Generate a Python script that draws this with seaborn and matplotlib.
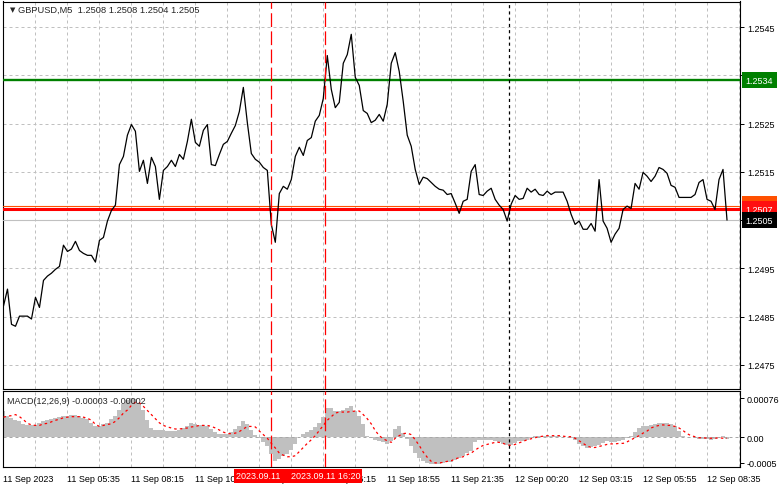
import matplotlib

matplotlib.use("Agg")
import matplotlib.pyplot as plt
import numpy as np
import pandas as pd
import seaborn as sns

# ─────────────────────────────────────────────
# Data (one sample every 2 bars)
# ─────────────────────────────────────────────
close = [
    1.24872, 1.24907, 1.24834, 1.24830, 1.24851, 1.24851, 1.24851, 1.24845, 1.24890, 1.24869,
    1.24925, 1.24934, 1.24940, 1.24948, 1.24954, 1.24998, 1.24985, 1.24990, 1.25006, 1.24987,
    1.24981, 1.24977, 1.24977, 1.24963, 1.25008, 1.25014, 1.25048, 1.25070, 1.25081, 1.25165,
    1.25182, 1.25226, 1.25248, 1.25234, 1.25151, 1.25174, 1.25126, 1.25180, 1.25161, 1.25093,
    1.25153, 1.25161, 1.25174, 1.25161, 1.25186, 1.25176, 1.25213, 1.25259, 1.25211, 1.25203,
    1.25236, 1.25248, 1.25165, 1.25163, 1.25186, 1.25207, 1.25213, 1.25230, 1.25246, 1.25275,
    1.25325, 1.25252, 1.25188, 1.25176, 1.25170, 1.25159, 1.25153, 1.25041, 1.25004, 1.25105,
    1.25120, 1.25114, 1.25134, 1.25182, 1.25201, 1.25184, 1.25215, 1.25221, 1.25255, 1.25267,
    1.25302, 1.25391, 1.25321, 1.25283, 1.25294, 1.25375, 1.25393, 1.25435, 1.25346, 1.25329,
    1.25277, 1.25271, 1.25252, 1.25257, 1.25269, 1.25255, 1.25290, 1.25375, 1.25397, 1.25358,
    1.25296, 1.25226, 1.25203, 1.25155, 1.25124, 1.25139, 1.25136, 1.25128, 1.25120, 1.25114,
    1.25112, 1.25103, 1.25105, 1.25085, 1.25064, 1.25089, 1.25093, 1.25151, 1.25165, 1.25103,
    1.25101, 1.25110, 1.25116, 1.25093, 1.25081, 1.25072, 1.25048, 1.25083, 1.25101, 1.25093,
    1.25095, 1.25116, 1.25108, 1.25114, 1.25103, 1.25101, 1.25110, 1.25103, 1.25108, 1.25108,
    1.25108, 1.25089, 1.25062, 1.25041, 1.25048, 1.25031, 1.25031, 1.25043, 1.25027, 1.25134,
    1.25048, 1.25033, 1.25004, 1.25021, 1.25033, 1.25072, 1.25079, 1.25074, 1.25126, 1.25114,
    1.25149, 1.25141, 1.25130, 1.25141, 1.25159, 1.25155, 1.25147, 1.25122, 1.25118, 1.25097,
    1.25097, 1.25097, 1.25097, 1.25103, 1.25128, 1.25134, 1.25093, 1.25089, 1.25072, 1.25134,
    1.25155, 1.25050,
]

macd_main = [
    0.00052, 0.00042, 0.00038, 0.00034, 0.00031, 0.00026, 0.00023, 0.00023, 0.00024, 0.00027,
    0.00031, 0.00034, 0.00036, 0.00038, 0.00040, 0.00042, 0.00042, 0.00043, 0.00043, 0.00042,
    0.00038, 0.00035, 0.00027, 0.00021, 0.00021, 0.00025, 0.00028, 0.00036, 0.00042, 0.00053,
    0.00064, 0.00073, 0.00076, 0.00074, 0.00067, 0.00053, 0.00033, 0.00018, 0.00014, 0.00014,
    0.00014, 0.00013, 0.00013, 0.00013, 0.00014, 0.00017, 0.00021, 0.00028, 0.00026, 0.00023,
    0.00023, 0.00022, 0.00016, 0.00011, 0.00007, 0.00007, 0.00007, 0.00011, 0.00016, 0.00022,
    0.00031, 0.00026, 0.00014, 0.00005, -0.00002, -0.00009, -0.00017, -0.00033, -0.00047, -0.00042,
    -0.00036, -0.00033, -0.00025, -0.00014, 0.00001, 0.00007, 0.00010, 0.00015, 0.00020, 0.00027,
    0.00039, 0.00057, 0.00057, 0.00051, 0.00052, 0.00053, 0.00056, 0.00060, 0.00051, 0.00042,
    0.00025, 0.00003, -0.00002, -0.00005, -0.00008, -0.00010, -0.00013, -0.00008, 0.00016, 0.00021,
    0.00008, -0.00003, -0.00018, -0.00031, -0.00040, -0.00046, -0.00051, -0.00052, -0.00052, -0.00052,
    -0.00051, -0.00049, -0.00048, -0.00044, -0.00040, -0.00036, -0.00031, -0.00026, -0.00010, -0.00005,
    -0.00005, -0.00005, -0.00005, -0.00007, -0.00009, -0.00013, -0.00016, -0.00016, -0.00012, -0.00008,
    -0.00007, -0.00005, -0.00002, 0.00002, 0.00003, 0.00003, 0.00003, 0.00003, 0.00003, 0.00003,
    0.00001, 0.00000, -0.00001, -0.00005, -0.00013, -0.00018, -0.00021, -0.00020, -0.00018, -0.00015,
    -0.00012, -0.00007, -0.00010, -0.00010, -0.00008, -0.00005, -0.00001, 0.00003, 0.00011, 0.00018,
    0.00021, 0.00022, 0.00023, 0.00025, 0.00027, 0.00027, 0.00027, 0.00025, 0.00021, 0.00013,
    0.00003, 0.00000, 0.00000, -0.00001, -0.00003, -0.00003, -0.00004, -0.00005, -0.00003, 0.00000,
    0.00003, -0.00003,
]

macd_signal = [
    0.00039, 0.00041, 0.00042, 0.00044, 0.00040, 0.00034, 0.00027, 0.00024, 0.00023, 0.00023,
    0.00026, 0.00027, 0.00030, 0.00033, 0.00035, 0.00038, 0.00039, 0.00040, 0.00040, 0.00040,
    0.00039, 0.00037, 0.00033, 0.00025, 0.00021, 0.00023, 0.00025, 0.00026, 0.00031, 0.00038,
    0.00047, 0.00053, 0.00062, 0.00068, 0.00067, 0.00060, 0.00052, 0.00044, 0.00036, 0.00028,
    0.00023, 0.00020, 0.00018, 0.00016, 0.00016, 0.00017, 0.00018, 0.00020, 0.00021, 0.00023,
    0.00023, 0.00023, 0.00021, 0.00018, 0.00014, 0.00010, 0.00007, 0.00007, 0.00008, 0.00011,
    0.00016, 0.00021, 0.00021, 0.00020, 0.00012, 0.00005, -0.00002, -0.00012, -0.00021, -0.00031,
    -0.00035, -0.00038, -0.00038, -0.00036, -0.00028, -0.00020, -0.00012, -0.00005, 0.00003, 0.00013,
    0.00023, 0.00033, 0.00040, 0.00047, 0.00049, 0.00049, 0.00049, 0.00050, 0.00051, 0.00051,
    0.00044, 0.00036, 0.00026, 0.00013, 0.00003, -0.00003, -0.00007, -0.00010, -0.00002, 0.00003,
    0.00007, 0.00008, 0.00005, -0.00005, -0.00016, -0.00029, -0.00039, -0.00047, -0.00050, -0.00050,
    -0.00049, -0.00047, -0.00046, -0.00042, -0.00040, -0.00038, -0.00034, -0.00031, -0.00025, -0.00020,
    -0.00016, -0.00014, -0.00012, -0.00010, -0.00010, -0.00012, -0.00015, -0.00016, -0.00014, -0.00011,
    -0.00008, -0.00005, -0.00003, -0.00001, 0.00001, 0.00002, 0.00003, 0.00003, 0.00003, 0.00003,
    0.00002, 0.00001, 0.00001, -0.00002, -0.00007, -0.00012, -0.00017, -0.00020, -0.00020, -0.00018,
    -0.00016, -0.00014, -0.00013, -0.00013, -0.00012, -0.00012, -0.00009, -0.00005, -0.00001, 0.00003,
    0.00008, 0.00012, 0.00018, 0.00021, 0.00023, 0.00024, 0.00023, 0.00023, 0.00021, 0.00018,
    0.00013, 0.00007, 0.00003, 0.00001, -0.00001, -0.00001, -0.00002, -0.00002, -0.00002, -0.00001,
    -0.00002, -0.00002,
]

# time axis (bar numbers of the M5 series)
time_tick_bars = [0, 32, 64, 96, 128, 160, 192, 224, 256, 288, 320, 352]
time_tick_labels = [
    "11 Sep 2023", "11 Sep 05:35", "11 Sep 08:15", "11 Sep 10:55",
    "11 Sep 13:35", "11 Sep 16:15", "11 Sep 18:55", "11 Sep 21:35",
    "12 Sep 00:20", "12 Sep 03:15", "12 Sep 05:55", "12 Sep 08:35",
]
event_bars = [134, 161]
# the first time box is partly covered by the second one
event_labels = ["2023.09.11", "2023.09.11 16:20"]
day_separator_bar = 253

price_ticks = [1.2475, 1.2485, 1.2495, 1.2505, 1.2515, 1.2525, 1.2535, 1.2545]
macd_ticks = [0.00076, 0.0, -0.0005]
macd_tick_labels = ["0.00076", "0.00", "-0.0005"]

# horizontal levels: target, sell level, buy level, current bid
level_values = [1.2534, 1.25079, 1.25073, 1.2505]
level_labels = ["1.2534", "1.2508", "1.2507", "1.2505"]

title = "GBPUSD,M5  1.2508 1.2508 1.2504 1.2505"
macd_title = "MACD(12,26,9) -0.00003 -0.00002"

# ─────────────────────────────────────────────
# Plot
# ─────────────────────────────────────────────
df = pd.DataFrame(
    {
        "bar": np.arange(len(close)) * 2,
        "close": close,
        "macd": macd_main,
        "signal": macd_signal,
    }
)

sns.set_style("white")
plt.rcParams["font.family"] = ["Liberation Sans", "DejaVu Sans"]
FS = 6.5
GRID = "#C0C0C0"

W, H = 781, 489


def px_rect(x0, y0, x1, y1):
    return [x0 / W, 1 - y1 / H, (x1 - x0) / W, (y1 - y0) / H]


fig = plt.figure(figsize=(W / 100, H / 100), dpi=100)
fig.patch.set_facecolor("white")
ax = fig.add_axes(px_rect(2.5, 2.5, 740, 390))
ax2 = fig.add_axes(px_rect(2.5, 392, 740, 468), sharex=ax)

for a in (ax, ax2):
    a.set_facecolor("white")
    for sp in a.spines.values():
        sp.set_color("black")
        sp.set_linewidth(0.8)

# ---- price panel
sns.lineplot(data=df, x="bar", y="close", ax=ax, color="black", lw=0.9,
             estimator=None, legend=False, zorder=4)

level_colors = ["#008000", "#FF5000", "#FF0000", GRID]
level_widths = [1.7, 0.8, 2.2, 0.8]
for val, col, lw in zip(level_values, level_colors, level_widths):
    ax.axhline(val, color=col, lw=lw, zorder=3)

box_colors = ["#008000", "#FF5000", "#FF1010", "black"]
box_offsets = [0, 0.00004, 0, 0]  # sell-level box peeks out above the buy-level box
for val, off, lab, col in zip(level_values, box_offsets, level_labels, box_colors):
    ax.text(1.0075, val + off, lab, transform=ax.get_yaxis_transform(),
            ha="left", va="center", color="white", fontsize=FS, zorder=10,
            clip_on=False,
            bbox=dict(boxstyle="square,pad=0.42", fc=col, ec="none"))

ax.set_ylim(1.24700, 1.25503)
ax.set_yticks(price_ticks)
ax.set_yticklabels([f"{p:.4f}" for p in price_ticks])
ax.yaxis.tick_right()
ax.tick_params(axis="y", direction="out", length=3, width=0.7, pad=2,
               labelsize=FS, colors="black")
ax.grid(axis="y", color=GRID, ls=(0, (3, 3)), lw=0.72)
ax.set_xlabel("")
ax.set_ylabel("")

ax.text(7 / 737.5, 1 - 8 / 387.5, "▼", transform=ax.transAxes, fontsize=5,
        ha="left", va="center", family=["DejaVu Sans"], zorder=10)
ax.text(16 / 737.5, 1 - 8 / 387.5, title, transform=ax.transAxes,
        fontsize=FS + 0.2, ha="left", va="center", zorder=10)

# ---- MACD panel
ax2.bar(df["bar"], df["macd"], width=2.0, color="#C0C0C0", lw=0, zorder=2)
ax2.axhline(0, color="#A8A8A8", ls=(0, (3, 3)), lw=0.72, zorder=2.5)
sns.lineplot(data=df, x="bar", y="signal", ax=ax2, color="red", lw=0.9,
             linestyle=(0, (2, 2.5)), estimator=None, legend=False, zorder=4)

ax2.set_ylim(-0.00058, 0.00090)
ax2.set_yticks(macd_ticks)
ax2.set_yticklabels(macd_tick_labels)
ax2.yaxis.tick_right()
ax2.tick_params(axis="y", direction="out", length=3, width=0.7, pad=2,
                labelsize=FS, colors="black")
ax2.set_xlabel("")
ax2.set_ylabel("")
ax2.text(4.5 / 737.5, 0.88, macd_title, transform=ax2.transAxes,
         fontsize=FS, ha="left", va="center", zorder=10)

# ---- shared time axis
ax2.set_xlim(-0.5, 368.5)
ax2.set_xticks(time_tick_bars)
ax2.set_xticks([b + 16 for b in time_tick_bars], minor=True)
ax2.set_xticklabels(time_tick_labels)
for lbl in ax2.get_xticklabels():
    lbl.set_ha("left")
ax2.tick_params(axis="x", which="major", direction="out", length=3, width=0.7,
                pad=2, labelsize=FS, colors="black")
ax2.tick_params(axis="x", which="minor", length=0)
ax.tick_params(axis="x", which="both", length=0, labelbottom=False)
for a in (ax, ax2):
    a.grid(axis="x", which="both", color=GRID, ls=(0, (3, 3)), lw=0.72)
    a.set_axisbelow(True)
    for b in event_bars:
        a.axvline(b, color="red", ls=(0, (11, 3.5)), lw=0.9, zorder=5)
    a.axvline(day_separator_bar, color="black", ls=(0, (2.5, 2.5)), lw=0.9, zorder=5)

# time boxes under the event lines: the second is centred on its line,
# the first one starts where a centred box would start and runs under the second
ev_box = dict(boxstyle="square,pad=0.25", fc="#FF0000", ec="none")
ax2.text(event_bars[0] - 17.5, -0.118, event_labels[0] + "    ",
         transform=ax2.get_xaxis_transform(), ha="left", va="center",
         color="white", fontsize=FS, zorder=10, clip_on=False, bbox=ev_box)
ax2.text(event_bars[1], -0.118, event_labels[1],
         transform=ax2.get_xaxis_transform(), ha="center", va="center",
         color="white", fontsize=FS, zorder=11, clip_on=False, bbox=ev_box)

fig.savefig("out.png", dpi=100)
plt.close(fig)
